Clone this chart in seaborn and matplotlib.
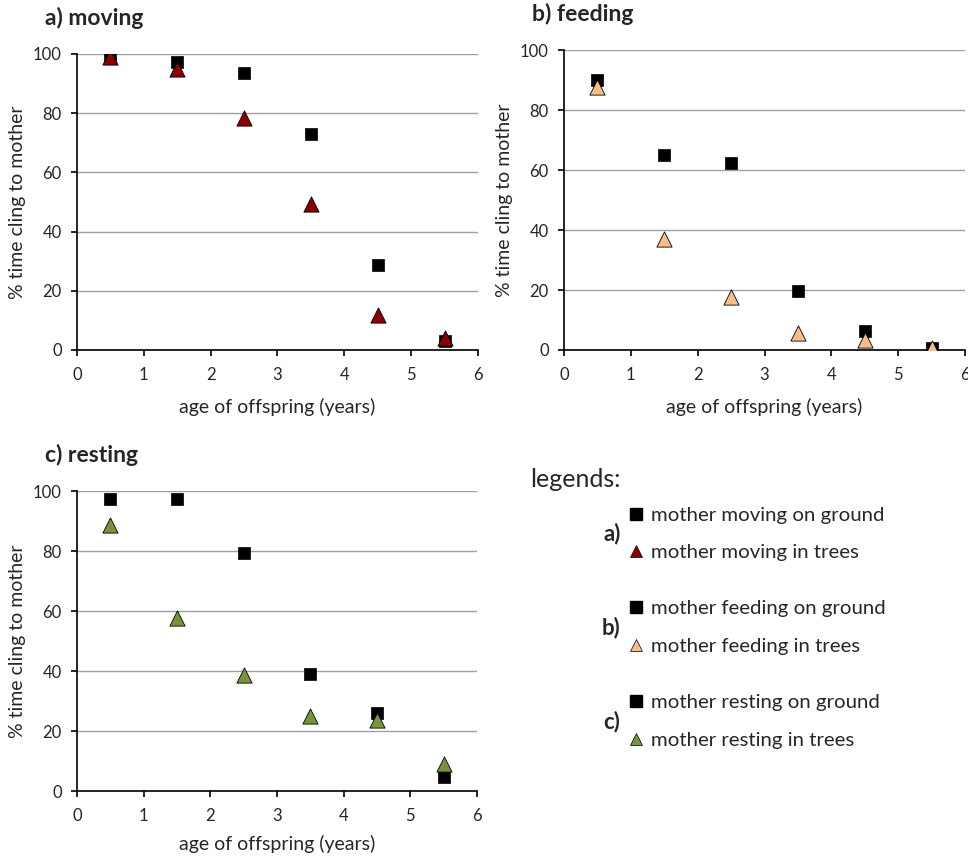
import pandas as pd
import matplotlib
matplotlib.use("Agg")
import matplotlib.pyplot as plt
import seaborn as sns
from matplotlib.lines import Line2D

# Values
ages = [0.5, 1.5, 2.5, 3.5, 4.5, 5.5]

moving_ground = [98.9, 97.4, 93.7, 73.1, 28.8, 3.2]
moving_trees = [99.0, 95.0, 78.3, 49.3, 11.8, 4.0]

feeding_ground = [90.0, 65.0, 62.4, 19.8, 6.3, 0.6]
feeding_trees = [87.6, 37.0, 17.6, 5.8, 3.3, 0.8]

resting_ground = [97.4, 97.2, 79.3, 39.0, 26.1, 4.7]
resting_trees = [88.6, 57.8, 38.8, 25.0, 23.6, 9.1]

panel_titles = ["a) moving", "b) feeding", "c) resting"]
tree_colors = ["#8B0000", "#F7BE8A", "#77933C"]
legend_labels = [
    ("mother moving on ground", "mother moving in trees"),
    ("mother feeding on ground", "mother feeding in trees"),
    ("mother resting on ground", "mother resting in trees"),
]
x_ticks = [0, 1, 2, 3, 4, 5, 6]
y_ticks = [0, 20, 40, 60, 80, 100]

sns.set_style("white")
plt.rcParams['font.family'] = ['Lato', 'DejaVu Sans']

fig = plt.figure(figsize=(9.68, 8.57), dpi=100)

# axes boxes in figure fractions
boxes = [
    [0.0795, 0.5916, 0.4143, 0.3454],
    [0.5826, 0.5916, 0.4144, 0.3500],
    [0.0795, 0.0770, 0.4133, 0.3500],
]
xlabel_pads = [11, 11, 8]
data = [
    (moving_ground, moving_trees),
    (feeding_ground, feeding_trees),
    (resting_ground, resting_trees),
]

for box, lpad, title, color, (ground, trees) in zip(boxes, xlabel_pads, panel_titles, tree_colors, data):
    ax = fig.add_axes(box)
    df = pd.DataFrame({
        "age": ages * 2,
        "value": ground + trees,
        "location": ["ground"] * len(ages) + ["trees"] * len(ages),
    })
    sns.scatterplot(data=df[df.location == "ground"], x="age", y="value",
                    marker="s", color="black", s=70, edgecolor="black",
                    linewidth=0.5, legend=False, ax=ax, zorder=3)
    sns.scatterplot(data=df[df.location == "trees"], x="age", y="value",
                    marker="^", color=color, s=120, edgecolor="black",
                    linewidth=0.6, legend=False, ax=ax, zorder=4)

    ax.set_xlim(0, 6)
    ax.set_ylim(0, 100)
    ax.set_xticks(x_ticks)
    ax.set_yticks(y_ticks)
    ax.yaxis.grid(True, color="#A0A0A0", linewidth=1)
    ax.set_axisbelow(True)
    for side in ["top", "right"]:
        ax.spines[side].set_visible(False)
    for side in ["left", "bottom"]:
        ax.spines[side].set_color("black")
        ax.spines[side].set_linewidth(1.2)
    ax.tick_params(axis="both", direction="out", length=4, width=1.2,
                   color="black", labelsize=12, labelcolor="#262626",
                   pad=7, bottom=True, left=True)
    ax.tick_params(axis="x", pad=8)
    ax.set_xlabel("age of offspring (years)", fontsize=14, labelpad=lpad, color="#262626")
    ax.set_ylabel("% time cling to mother", fontsize=14, labelpad=5, color="#262626")
    ax.text(-0.08, 1.085, title, transform=ax.transAxes, fontsize=16.5,
            fontweight="bold", ha="left", va="bottom")

# legend block in the lower right
fig.text(0.5475, 0.44, "legends:", fontsize=18, va="center", ha="left", color="#262626")
group_y = [0.377, 0.268, 0.158]
group_tag = ["a)", "b)", "c)"]
for gy, tag, color, (lab_g, lab_t) in zip(group_y, group_tag, tree_colors, legend_labels):
    fig.text(0.641, gy, tag, fontsize=16, fontweight="bold", va="center", ha="right")
    handles = [
        Line2D([], [], marker="s", color="black", linestyle="", markersize=8),
        Line2D([], [], marker="^", color=color, markeredgecolor="black",
               markeredgewidth=0.5, linestyle="", markersize=8),
    ]
    leg = fig.legend(handles, [lab_g, lab_t], loc="center left",
                     bbox_to_anchor=(0.649, gy), frameon=False, fontsize=14.7,
                     handlelength=0.8, handletextpad=0.3, labelspacing=1.0,
                     borderpad=0, borderaxespad=0)
    for t in leg.get_texts():
        t.set_color("#262626")

fig.savefig("out.png", dpi=100)
